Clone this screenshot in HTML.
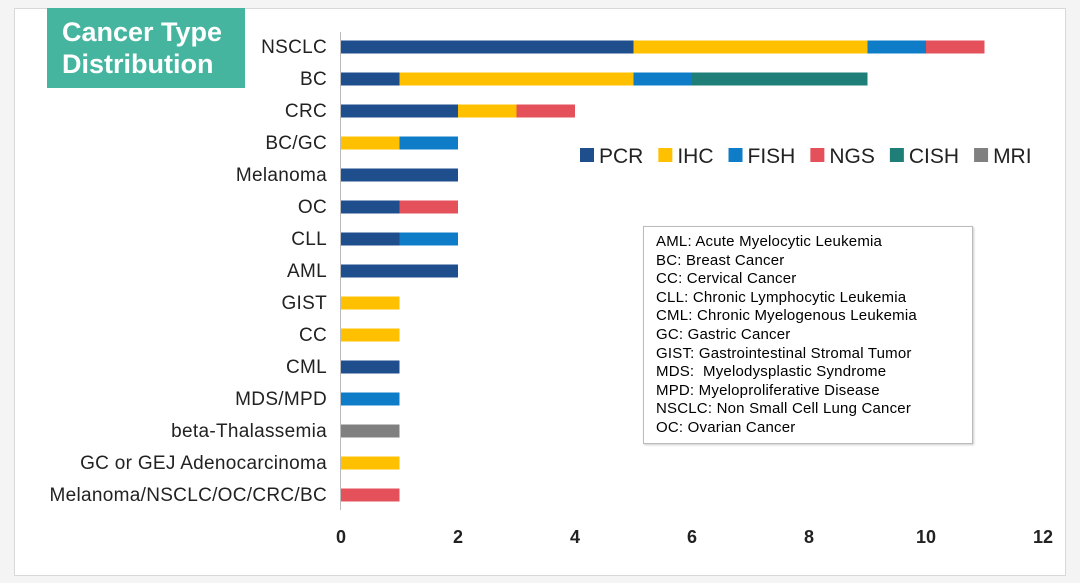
<!DOCTYPE html>
<html><head><meta charset="utf-8"><style>
body{margin:0;width:1080px;height:583px;background:#f4f4f4;font-family:"Liberation Sans",sans-serif;overflow:hidden}
#frame{position:absolute;left:14px;top:8px;width:1050px;height:566px;background:#fff;border:1px solid #d8d8d8}
#title{position:absolute;left:47px;top:8px;width:198px;height:80px;background:#45b5a0;color:#fff;font-weight:bold;font-size:27px;line-height:32px;padding:8px 0 0 15px;box-sizing:border-box}
#gloss{position:absolute;left:643px;top:226px;width:330px;height:218px;border:1px solid #bbb;background:#fff;box-sizing:border-box;padding:6px 0 0 12px;font-size:15px;letter-spacing:0.2px;line-height:18.6px;color:#000;box-shadow:1px 1px 2px #ccc;white-space:nowrap}
</style></head><body>
<div id="frame"></div>
<div id="title">Cancer Type<br>Distribution</div>
<svg id="chart" width="1080" height="583" style="position:absolute;left:0;top:0"></svg>
<div id="gloss">AML: Acute Myelocytic Leukemia<br>BC: Breast Cancer<br>CC: Cervical Cancer<br>CLL: Chronic Lymphocytic Leukemia<br>CML: Chronic Myelogenous Leukemia<br>GC: Gastric Cancer<br>GIST: Gastrointestinal Stromal Tumor<br>MDS:&nbsp; Myelodysplastic Syndrome<br>MPD: Myeloproliferative Disease<br>NSCLC: Non Small Cell Lung Cancer<br>OC: Ovarian Cancer</div>
<script>
const categories=["NSCLC","BC","CRC","BC/GC","Melanoma","OC","CLL","AML","GIST","CC","CML","MDS/MPD","beta-Thalassemia","GC or GEJ Adenocarcinoma","Melanoma/NSCLC/OC/CRC/BC"];
const seriesNames=["PCR","IHC","FISH","NGS","CISH","MRI"];
const seriesColors=["#1f4e8c","#ffc000","#0f7cc8","#e5515a","#1f7f78","#808080"];
const pcr =[5,1,2,0,2,1,1,2,0,0,1,0,0,0,0];
const ihc =[4,4,1,1,0,0,0,0,1,1,0,0,0,1,0];
const fish=[1,1,0,1,0,0,1,0,0,0,0,1,0,0,0];
const ngs =[1,0,1,0,0,1,0,0,0,0,0,0,0,0,1];
const cish=[0,3,0,0,0,0,0,0,0,0,0,0,0,0,0];
const mri =[0,0,0,0,0,0,0,0,0,0,0,0,1,0,0];
const xTicks=[0,2,4,6,8,10,12];
const series=[pcr,ihc,fish,ngs,cish,mri];
const svg=document.getElementById('chart');const NS="http://www.w3.org/2000/svg";
const x=v=>341+v*(1043-341)/12;
const y=i=>47+i*32;
function mk(t,a){const e=document.createElementNS(NS,t);for(const k in a)e.setAttribute(k,a[k]);svg.appendChild(e);return e;}
const ax=mk('line',{x1:340.5,x2:340.5,y1:32,y2:510,stroke:'#bbb'});


categories.forEach((c,i)=>{
  const t=mk('text',{x:327,y:y(i)+6,'text-anchor':'end','font-size':19,'letter-spacing':0.3,fill:'#222'});t.textContent=c;
  
  
  let acc=0;
  series.forEach((s,k)=>{
    if(s[i]>0){const r=mk('rect',{x:x(acc),y:y(i)-6.5,width:x(acc+s[i])-x(acc),height:13,fill:seriesColors[k]});
      
      
      acc+=s[i];}
  });
});
xTicks.forEach(v=>{const t=mk('text',{x:x(v),y:543,'text-anchor':'middle','font-size':18,'font-weight':'bold',fill:'#222'});t.textContent=v;
  
  });
let lx=580;
seriesNames.forEach((n,k)=>{
  const r=mk('rect',{x:lx,y:148,width:14,height:14,fill:seriesColors[k]});
  
  
  const t=mk('text',{x:lx+19,y:163,'font-size':21,fill:'#222'});t.textContent=n;
  
  
  lx+=19+t.getComputedTextLength()+15;
});
</script>
</body></html>
